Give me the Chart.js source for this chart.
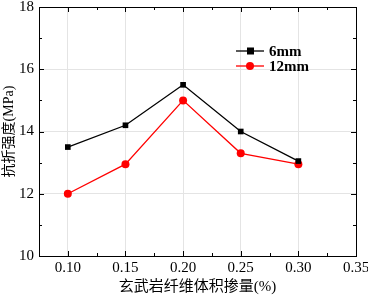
<!DOCTYPE html>
<html>
<head>
<meta charset="utf-8">
<script src="https://cdn.jsdelivr.net/npm/chart.js@4"></script>
<style>
	html, body { margin: 0; padding: 0; background: #fff; }
	#wrap { width: 368px; height: 296px; }
</style>
</head>
<body>
<div id="wrap"><canvas id="myChart" width="368" height="296"></canvas></div>
<script>
// data
const dosage = [0.10, 0.15, 0.20, 0.25, 0.30];
const strength6mm = [13.5, 14.2, 15.5, 14.0, 13.05];
const strength12mm = [12.0, 12.95, 15.0, 13.3, 12.95];
const xTicks = [0.10, 0.15, 0.20, 0.25, 0.30, 0.35];
const yTicks = [10, 12, 14, 16, 18];
const seriesNames = ['6mm', '12mm'];

const serif = "'Liberation Serif', 'Noto Sans CJK SC', serif";
const cjk = "'Liberation Serif', 'Noto Sans CJK SC', serif";

const toPoints = (xs, ys) => xs.map((x, i) => ({ x: x, y: ys[i] }));

// inward ticks on all four sides + frame + legend
const framePlugin = {
	id: 'frame',
	afterDraw: (chart) => {
		const ctx = chart.ctx;
		const a = chart.chartArea;
		const xs = chart.scales.x;
		const ys = chart.scales.y;
		ctx.save();
		ctx.strokeStyle = '#000';
		ctx.lineWidth = 1;
		ctx.strokeRect(a.left + 0.5, a.top + 0.5, a.right - a.left, a.bottom - a.top);
		ctx.beginPath();
		for (let v = 0.1; v <= 0.351; v += 0.025) {
			let px = Math.round(xs.getPixelForValue(v)) + 0.5;
			let len = Math.abs(v * 40 - Math.round(v * 40 / 2) * 2) < 0.01 ? 5 : 3;
			ctx.moveTo(px, a.bottom); ctx.lineTo(px, a.bottom - len);
			ctx.moveTo(px, a.top); ctx.lineTo(px, a.top + len);
		}
		for (let v = 10; v <= 18; v += 1) {
			let py = Math.round(ys.getPixelForValue(v)) + 0.5;
			let len = v % 2 === 0 ? 5 : 3;
			ctx.moveTo(a.left, py); ctx.lineTo(a.left + len, py);
			ctx.moveTo(a.right, py); ctx.lineTo(a.right - len, py);
		}
		ctx.stroke();

		// legend
		const rows = [
			{ y: 51, color: '#000', square: true, label: seriesNames[0] },
			{ y: 66, color: '#ff0000', square: false, label: seriesNames[1] },
		];
		ctx.font = 'bold 15px ' + serif;
		ctx.textBaseline = 'middle';
		for (let r of rows) {
			ctx.strokeStyle = r.color;
			ctx.fillStyle = r.color;
			ctx.lineWidth = 1.3;
			ctx.beginPath();
			ctx.moveTo(236, r.y); ctx.lineTo(264, r.y);
			ctx.stroke();
			if (r.square) {
				ctx.fillRect(247, r.y - 3.5, 7, 7);
			} else {
				ctx.beginPath();
				ctx.arc(250, r.y, 4, 0, Math.PI * 2);
				ctx.fill();
			}
			ctx.fillStyle = '#000';
			ctx.fillText(r.label, 269, r.y + 1);
		}
		ctx.restore();
	},
};

new Chart(document.getElementById('myChart'), {
	type: 'line',
	data: {
		datasets: [
			{
				label: seriesNames[0],
				data: toPoints(dosage, strength6mm),
				borderColor: '#000',
				backgroundColor: '#000',
				borderWidth: 1.3,
				pointStyle: 'rect',
				pointRadius: 4,
				pointBorderWidth: 0,
			},
			{
				label: seriesNames[1],
				data: toPoints(dosage, strength12mm),
				borderColor: '#ff0000',
				backgroundColor: '#ff0000',
				borderWidth: 1.3,
				pointStyle: 'circle',
				pointRadius: 4,
				pointBorderWidth: 0,
			},
		],
	},
	options: {
		responsive: false,
		animation: false,
		layout: { padding: { top: 7, right: 12, left: 0, bottom: 0 } },
		plugins: { legend: { display: false }, tooltip: { enabled: false } },
		scales: {
			x: {
				type: 'linear',
				min: 0.075,
				max: 0.35,
				afterBuildTicks: (axis) => { axis.ticks = xTicks.map((v) => ({ value: v })); },
				afterFit: (axis) => {
					axis.height = 40;
					axis.paddingLeft = 0;
					axis.paddingRight = 0;
				},
				grid: { color: '#e4e4e4', drawTicks: false, drawOnChartArea: true },
				border: { display: false },
				ticks: {
					padding: 3,
					color: '#000',
					font: { family: serif, size: 15 },
					maxRotation: 0,
					callback: (v) => v.toFixed(2),
				},
				title: {
					display: true,
					text: '玄武岩纤维体积掺量(%)',
					color: '#000',
					font: { family: cjk, size: 15 },
					padding: { top: 0, bottom: 0 },
				},
			},
			y: {
				min: 10,
				max: 18,
				afterBuildTicks: (axis) => { axis.ticks = yTicks.map((v) => ({ value: v })); },
				afterFit: (axis) => {
					axis.width = 39;
					axis.paddingTop = 0;
					axis.paddingBottom = 0;
				},
				grid: { color: '#e4e4e4', drawTicks: false },
				border: { display: false },
				ticks: {
					padding: 5,
					color: '#000',
					font: { family: serif, size: 15 },
				},
				title: {
					display: true,
					text: '抗折强度(MPa)',
					color: '#000',
					font: { family: cjk, size: 14 },
					padding: { top: 1, bottom: 0 },
				},
			},
		},
	},
	plugins: [framePlugin],
});
</script>
</body>
</html>
